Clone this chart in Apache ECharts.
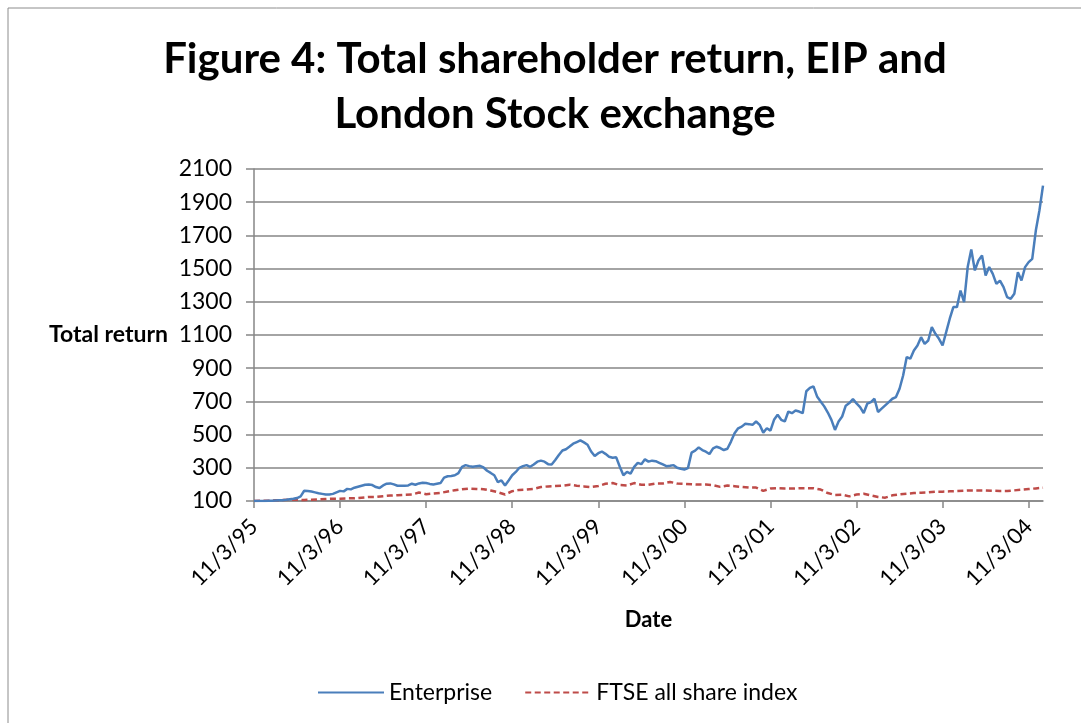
<!DOCTYPE html>
<html>
<head>
<meta charset="utf-8">
<script src="https://cdn.jsdelivr.net/npm/echarts@6/dist/echarts.min.js"></script>
<style>
  html, body { margin: 0; padding: 0; background: #fff; }
  #main { width: 1081px; height: 723px; }
</style>
</head>
<body>
<div id="main"></div>
<script>
// tick labels, one per year
const tickLabels = ['11/3/95', '11/3/96', '11/3/97', '11/3/98', '11/3/99',
  '11/3/00', '11/3/01', '11/3/02', '11/3/03', '11/3/04'];

// Enterprise total return, one value every half month from 11/3/95
const enterprise = [
  100, 100, 100, 100, 101, 102, 103, 104, 105, 107, 110, 113, 118, 128, 162, 160,
  157, 152, 147, 143, 139, 139, 143, 152, 161, 158, 173, 170, 180, 186, 192, 198,
  200, 196, 184, 178, 194, 204, 206, 200, 192, 192, 192, 194, 204, 198, 206, 210,
  208, 203, 200, 204, 208, 241, 249, 251, 255, 268, 306, 316, 310, 306, 310, 312,
  302, 282, 269, 255, 214, 224, 194, 224, 255, 275, 300, 310, 316, 306, 320, 337,
  343, 337, 322, 320, 347, 377, 404, 412, 428, 445, 455, 465, 453, 439, 398, 371,
  388, 398, 384, 367, 361, 363, 306, 255, 275, 265, 306, 330, 322, 351, 337, 343,
  340, 330, 320, 310, 312, 316, 300, 294, 290, 298, 391, 403, 423, 407, 397, 383,
  417, 427, 419, 407, 415, 458, 508, 538, 548, 565, 563, 559, 579, 559, 512, 538,
  524, 589, 619, 589, 579, 639, 629, 645, 639, 629, 761, 781, 791, 730, 700, 670,
  633, 589, 528, 579, 609, 674, 690, 714, 688, 666, 630, 686, 696, 716, 636, 656,
  676, 696, 716, 726, 776, 856, 967, 957, 1007, 1037, 1087, 1047, 1067, 1147, 1107, 1077,
  1037, 1117, 1198, 1268, 1268, 1368, 1298, 1509, 1615, 1489, 1549, 1579, 1458, 1509, 1468, 1408,
  1428, 1388, 1328, 1318, 1348, 1478, 1428, 1509, 1539, 1559, 1729, 1850, 2000
];

// FTSE all share index, one value every month from 11/3/95
const ftse = [
  100, 102, 102, 104, 106, 108, 108, 106, 108, 110, 112, 114, 114, 116, 116, 120,
  124, 124, 129, 133, 135, 137, 139, 151, 141, 145, 149, 157, 165, 171, 175, 173,
  171, 163, 153, 139, 159, 167, 169, 173, 184, 188, 190, 192, 198, 192, 188, 184,
  190, 204, 208, 196, 194, 208, 198, 198, 205, 205, 215, 205, 203, 201, 199, 199,
  195, 185, 193, 189, 185, 181, 181, 161, 175, 177, 175, 175, 177, 177, 177, 169,
  148, 136, 138, 128, 139, 144, 134, 124, 120, 134, 140, 144, 148, 150, 152, 156,
  156, 158, 160, 162, 164, 164, 164, 162, 160, 160, 164, 168, 172, 176, 180
];

// half-month dates along the x axis
const categories = [];
for (let k = 0; k < enterprise.length; k++) {
  const m = 2 + Math.floor(k / 2);           // months since Jan 95
  const yy = String((95 + Math.floor(m / 12)) % 100).padStart(2, '0');
  const day = k % 2 === 0 ? 11 : 26;
  categories.push(day + '/' + (m % 12 + 1) + '/' + yy);
}

const axisGrey = '#868686';
const font = 'Lato, "Open Sans", sans-serif';

const chart = echarts.init(document.getElementById('main'));
chart.setOption({
  animation: false,
  textStyle: { fontFamily: font },
  graphic: [{
    type: 'rect',
    shape: { x: 8, y: 8, width: 1200, height: 800 },
    style: { fill: 'none', stroke: '#8c8c8c', lineWidth: 1 }
  }],
  title: {
    text: 'Figure 4: Total shareholder return, EIP and\nLondon Stock exchange',
    left: 550,
    top: 27,
    textAlign: 'center',
    textStyle: { fontSize: 42, fontWeight: 'bold', color: '#000', lineHeight: 55, fontFamily: font }
  },
  legend: {
    left: 312,
    top: 676,
    itemWidth: 66,
    itemHeight: 14,
    itemGap: 32,
    itemStyle: { opacity: 0 },
    textStyle: { fontSize: 23, color: '#000', fontFamily: font },
    data: ['Enterprise', 'FTSE all share index']
  },
  grid: { left: 254, right: 38, top: 169, bottom: 222 },
  xAxis: {
    type: 'category',
    data: categories,
    boundaryGap: false,
    name: 'Date',
    nameLocation: 'middle',
    nameGap: 108,
    nameTextStyle: { fontSize: 22, fontWeight: 'bold', color: '#000' },
    axisLine: { lineStyle: { color: axisGrey, width: 1.5 } },
    axisTick: { interval: 23, length: 7, lineStyle: { color: axisGrey, width: 1.5 } },
    axisLabel: {
      interval: 23,
      rotate: 45,
      margin: 22,
      fontSize: 22,
      color: '#000',
      formatter: (v, i) => tickLabels[i / 24] || ''
    },
    splitLine: { show: false }
  },
  yAxis: {
    type: 'value',
    min: 100,
    max: 2100,
    interval: 200,
    name: 'Total return',
    nameLocation: 'middle',
    nameRotate: 0,
    nameGap: 86,
    nameTextStyle: { fontSize: 23, fontWeight: 'bold', color: '#000', align: 'right' },
    axisLine: { show: true, lineStyle: { color: axisGrey, width: 1.5 } },
    axisTick: { show: true, length: 8, lineStyle: { color: axisGrey, width: 1.5 } },
    axisLabel: { fontSize: 23, color: '#000', margin: 22, formatter: v => String(v) },
    splitLine: { lineStyle: { color: axisGrey, width: 1.5 } }
  },
  series: [
    {
      name: 'Enterprise',
      type: 'line',
      data: enterprise,
      symbol: 'none',
      lineStyle: { color: '#4a7ebb', width: 2.5 },
      itemStyle: { color: '#4a7ebb' },
      z: 3
    },
    {
      name: 'FTSE all share index',
      type: 'line',
      data: ftse.map((v, i) => [i * 2, v]),
      symbol: 'none',
      lineStyle: { color: '#be4b48', width: 2.5, type: [6, 3.5] },
      itemStyle: { color: '#be4b48' },
      z: 2
    }
  ]
});
</script>
</body>
</html>
